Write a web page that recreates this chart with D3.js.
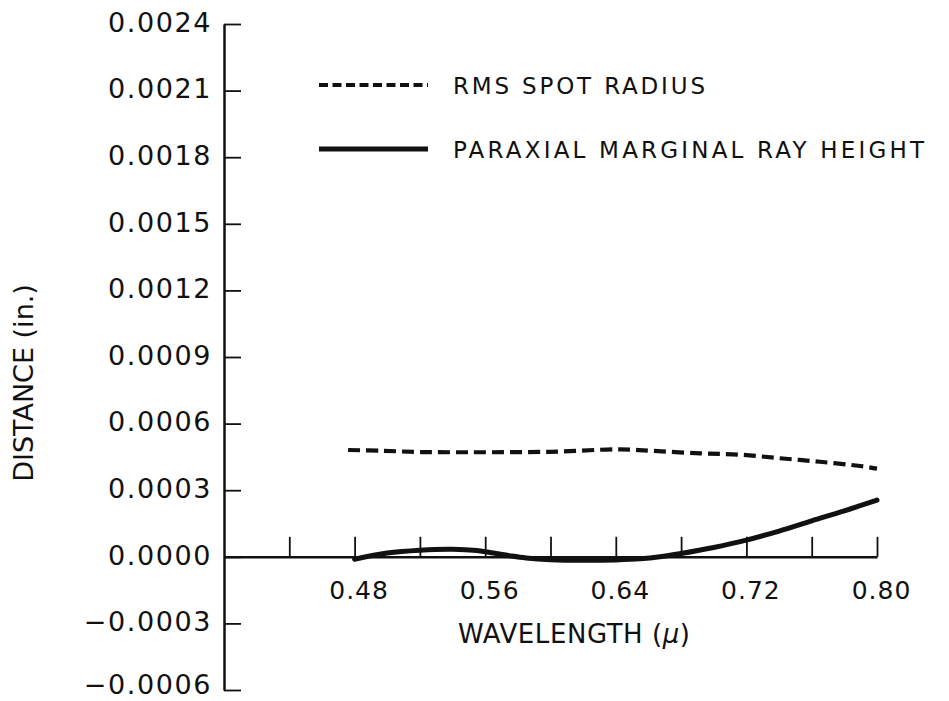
<!DOCTYPE html>
<html>
<head>
<meta charset="utf-8">
<script src="https://cdn.jsdelivr.net/npm/d3@7"></script>
<style>
  html, body { margin: 0; padding: 0; background: #fff; }
  svg { display: block; }
  text { font-family: "DejaVu Sans", sans-serif; fill: #111; }
</style>
</head>
<body>
<svg id="chart" width="949" height="701"></svg>
<script>
// ---- data ----
const rmsWavelength = [0.476, 0.4956, 0.52, 0.5507, 0.5997, 0.6426, 0.6628, 0.6916, 0.716, 0.7406, 0.765, 0.7896, 0.80];
const rmsRadius     = [0.000481, 0.000478, 0.000472, 0.000471, 0.000473, 0.000484, 0.000477, 0.000466, 0.000460, 0.000444, 0.000428, 0.000409, 0.000397];

const pmrWavelength = [0.48, 0.50, 0.52, 0.54, 0.555, 0.565, 0.575, 0.585, 0.60, 0.62, 0.64, 0.655, 0.667, 0.68, 0.70, 0.72, 0.74, 0.76, 0.78, 0.80];
const pmrHeight     = [-0.000011, 0.000017, 0.000030, 0.000034, 0.000028, 0.000017, 0.000005, -0.000005, -0.000013, -0.000016, -0.000014, -0.000009, 0.0000, 0.000015, 0.000042, 0.000075, 0.000116, 0.000162, 0.000207, 0.000255];

const yTickValues = [-0.0006, -0.0003, 0.0, 0.0003, 0.0006, 0.0009, 0.0012, 0.0015, 0.0018, 0.0021, 0.0024];
const xTickValues = [0.44, 0.48, 0.52, 0.56, 0.60, 0.64, 0.68, 0.72, 0.76, 0.80];
const xLabelValues = [0.48, 0.56, 0.64, 0.72, 0.80];

const legendLabels = ["RMS SPOT RADIUS", "PARAXIAL MARGINAL RAY HEIGHT"];
const xTitle = "WAVELENGTH (";
const xTitleUnit = "\u03BC";
const yTitle = "DISTANCE (in.)";

// ---- scales ----
const svg = d3.select("#chart");
const x = d3.scaleLinear().domain([0.40, 0.80]).range([224, 877]);
const y = d3.scaleLinear().domain([-0.0006, 0.0024]).range([690, 24]);

// ---- y axis ----
const yAxis = d3.axisLeft(y)
  .tickValues(yTickValues)
  .tickSizeInner(-17)
  .tickSizeOuter(0)
  .tickPadding(12)
  .tickFormat(d => d3.format(".4f")(Math.abs(d) < 1e-12 ? 0 : d));
const gy = svg.append("g").attr("transform", `translate(${x.range()[0]},0)`).call(yAxis);
gy.select(".domain").attr("stroke", "#111").attr("stroke-width", 2.5);
gy.selectAll(".tick line").attr("stroke", "#111").attr("stroke-width", 1.8);
gy.selectAll(".tick text")
  .attr("font-size", 27)
  .attr("fill", "#111")
  .style("letter-spacing", "1.6px")
  .attr("dy", (d, i) => i === 0 ? "0.12em" : "0.27em")
  .attr("x", -12);

// ---- x axis (at y = 0) ----
const xAxis = d3.axisBottom(x)
  .tickValues(xTickValues)
  .tickSizeInner(-20)
  .tickSizeOuter(0)
  .tickPadding(24)
  .tickFormat(d => xLabelValues.some(v => Math.abs(v - d) < 1e-9) ? d3.format(".2f")(d) : "");
const gx = svg.append("g").attr("transform", `translate(0,${y(0)})`).call(xAxis);
gx.select(".domain").attr("stroke", "#111").attr("stroke-width", 2.5);
gx.selectAll(".tick line").attr("stroke", "#111").attr("stroke-width", 1.8);
gx.selectAll(".tick text")
  .attr("font-size", 25)
  .attr("fill", "#111")
  .attr("dx", 4)
  .style("letter-spacing", "1px");
svg.selectAll(".tick text").attr("font-family", "DejaVu Sans, sans-serif");

// ---- curves ----
const lineGen = d3.line().x(d => x(d[0])).y(d => y(d[1])).curve(d3.curveCatmullRom.alpha(0.5));

svg.append("path")
  .datum(d3.zip(rmsWavelength, rmsRadius))
  .attr("d", lineGen)
  .attr("fill", "none")
  .attr("stroke", "#111")
  .attr("stroke-width", 4.2)
  .attr("stroke-dasharray", "12,6");

svg.append("path")
  .datum(d3.zip(pmrWavelength, pmrHeight))
  .attr("d", lineGen)
  .attr("fill", "none")
  .attr("stroke", "#111")
  .attr("stroke-width", 5)
  .attr("stroke-linecap", "round");

// ---- legend ----
const legendRows = [
  { label: legendLabels[0], y: 85, dash: "9,4.5", width: 4.2, textW: 252 },
  { label: legendLabels[1], y: 149, dash: null, width: 4.8, textW: 471 }
];
const lg = svg.append("g");
legendRows.forEach(r => {
  lg.append("line")
    .attr("x1", 319).attr("x2", 428)
    .attr("y1", r.y).attr("y2", r.y)
    .attr("stroke", "#111")
    .attr("stroke-width", r.width)
    .attr("stroke-dasharray", r.dash);
  lg.append("text")
    .attr("x", 453).attr("y", r.y + 8.5)
    .attr("font-size", 23)
    .attr("textLength", r.textW)
    .attr("lengthAdjust", "spacing")
    .text(r.label);
});

// ---- axis titles ----
const xt = svg.append("text")
  .attr("x", 458).attr("y", 643)
  .attr("font-size", 26)
  .attr("textLength", 232)
  .attr("lengthAdjust", "spacing");
xt.append("tspan").text(xTitle);
xt.append("tspan").attr("font-style", "italic").text(xTitleUnit);
xt.append("tspan").text(")");

svg.append("text")
  .attr("transform", "translate(33,383) rotate(-90)")
  .attr("text-anchor", "middle")
  .attr("font-size", 27)
  .text(yTitle);
</script>
</body>
</html>
